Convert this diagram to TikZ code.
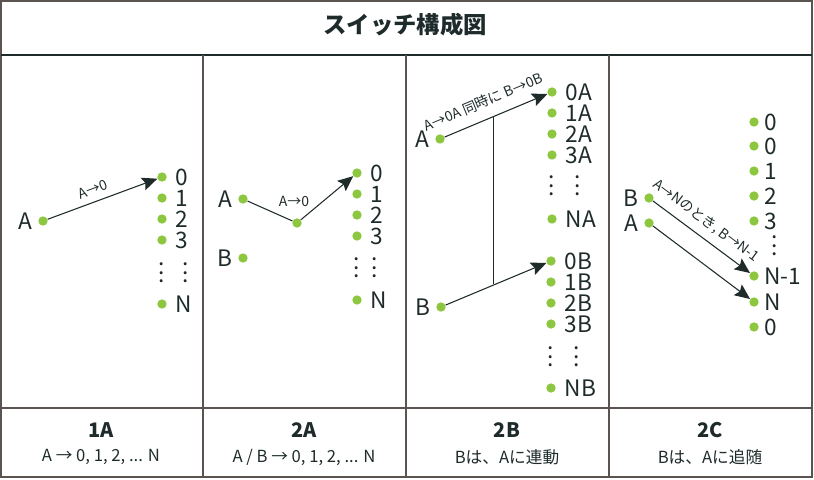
\documentclass[tikz,border=0pt]{standalone}
\usepackage{fontspec}
\setmainfont{Noto Sans CJK JP}
\usetikzlibrary{arrows.meta,positioning}
\definecolor{ink}{HTML}{1F2B2B}
\definecolor{rule}{HTML}{5B5350}
\definecolor{leaf}{HTML}{8DC63F}

\begin{document}
\begin{tikzpicture}[
            x = 0.75pt, y = -0.75pt, % pixel grid, y grows downwards
            > = {Stealth[length=11.5pt,width=10pt,inset=2pt]}, % arrow head style
            node distance = 6.5pt, % distance between dot and its name
            dot/.style = {circle, fill=leaf, inner sep=0pt, minimum size=7pt},
            term/.style = {font=\fontsize{17}{17}\selectfont, text=ink, inner sep=0pt},
            note/.style = {font=\fontsize{10.5}{10.5}\selectfont, text=ink, inner sep=1pt},
            gap/.style = {font=\fontsize{17}{6.5}\selectfont, text=ink, align=center, inner sep=0pt},
            head/.style = {font=\fontsize{15}{15}\selectfont\bfseries, text=ink},
            sub/.style = {font=\fontsize{12.5}{12.5}\selectfont, text=ink},
            wire/.style = {draw=ink, line width=0.8pt},
            frame/.style = {draw=rule, line width=1.1pt}
        ]

	\useasboundingbox (0,0) rectangle (814,479);

	% table
	\draw[frame] (1,1) rectangle (812,477);
	\draw[frame, draw=ink] (1,55) -- (812,55);
	\draw[frame] (1,408) -- (812,408);
	\draw[frame] (203,55) -- (203,477);
	\draw[frame] (406,55) -- (406,477);
	\draw[frame] (609,55) -- (609,477);
	\node[font=\fontsize{17.5}{17.5}\selectfont\bfseries, text=ink] (title) at (405,25) {スイッチ構成図};

	% 1A
	\node[dot] (a1) at (43,221) {};
	\node[term, left=4pt of a1] (la1) {A};
	\node[dot] (c0) at (162,177) {};
	\node[dot] (c1) at (162,198) {};
	\node[dot] (c2) at (162,219) {};
	\node[dot] (c3) at (162,240) {};
	\node[dot] (cn) at (162,304) {};
	\node[term, right=of c0] (lc0) {0};
	\node[term, right=of c1] (lc1) {1};
	\node[term, right=of c2] (lc2) {2};
	\node[term, right=of c3] (lc3) {3};
	\node[term, right=of cn] (lcn) {N};
	\node[gap] (vc) at (162,273) {.\\.\\.};
	\node[gap] (vlc) at (186,273) {.\\.\\.};
	\draw[wire, ->] (a1) -- node[note, sloped, above=4pt, pos=0.45] (l1) {A→0} (c0);

	% 2A
	\node[dot] (a2) at (243,199) {};
	\node[term, left=4pt of a2] (la2) {A};
	\node[dot] (b2) at (243,258) {};
	\node[term, left=4pt of b2] (lb2) {B};
	\node[dot] (m2) at (297,223) {};
	\node[dot] (d0) at (357,173) {};
	\node[dot] (d1) at (357,194) {};
	\node[dot] (d2) at (357,215) {};
	\node[dot] (d3) at (357,236) {};
	\node[dot] (dn) at (357,300) {};
	\node[term, right=of d0] (ld0) {0};
	\node[term, right=of d1] (ld1) {1};
	\node[term, right=of d2] (ld2) {2};
	\node[term, right=of d3] (ld3) {3};
	\node[term, right=of dn] (ldn) {N};
	\node[gap] (vd) at (357,268) {.\\.\\.};
	\node[gap] (vld) at (375,268) {.\\.\\.};
	\draw[wire] (a2) -- (m2);
	\draw[wire, ->] (m2) -- (d0);
	\node[note] (l2) at (294,201) {A→0};

	% 2B
	\node[dot] (a3) at (440,139) {};
	\node[term, left=4pt of a3] (la3) {A};
	\node[dot] (b3) at (441,307) {};
	\node[term, left=4pt of b3] (lb3) {B};
	\node[dot] (e0) at (552,92) {};
	\node[dot] (e1) at (552,113) {};
	\node[dot] (e2) at (552,134) {};
	\node[dot] (e3) at (552,155) {};
	\node[dot] (en) at (552,219) {};
	\node[term, right=of e0] (le0) {0A};
	\node[term, right=of e1] (le1) {1A};
	\node[term, right=of e2] (le2) {2A};
	\node[term, right=of e3] (le3) {3A};
	\node[term, right=of en] (len) {NA};
	\node[gap] (ve) at (552,186) {.\\.\\.};
	\node[gap] (vle) at (578,186) {.\\.\\.};
	\node[dot] (f0) at (551,261) {};
	\node[dot] (f1) at (551,282) {};
	\node[dot] (f2) at (551,303) {};
	\node[dot] (f3) at (551,324) {};
	\node[dot] (fn) at (551,388) {};
	\node[term, right=of f0] (lf0) {0B};
	\node[term, right=of f1] (lf1) {1B};
	\node[term, right=of f2] (lf2) {2B};
	\node[term, right=of f3] (lf3) {3B};
	\node[term, right=of fn] (lfn) {NB};
	\node[gap] (vf) at (551,357) {.\\.\\.};
	\node[gap] (vlf) at (577,357) {.\\.\\.};
	\draw[wire, ->] (a3) -- coordinate[pos=0.48] (ja) node[note, sloped, above=7pt, pos=0.44] (l3) {A→0A 同時に B→0B} (e0);
	\draw[wire, ->] (b3) -- coordinate[pos=0.49] (jb) (f0);
	\draw[wire] (ja) -- (ja |- jb);

	% 2C
	\node[dot] (b4) at (649,198) {};
	\node[term, left=4pt of b4] (lb4) {B};
	\node[dot] (a4) at (649,223) {};
	\node[term, left=4pt of a4] (la4) {A};
	\node[dot] (g0) at (754,122) {};
	\node[dot] (g1) at (754,146) {};
	\node[dot] (g2) at (754,171) {};
	\node[dot] (g3) at (754,196) {};
	\node[dot] (g4) at (754,221) {};
	\node[dot] (g5) at (754,276) {};
	\node[dot] (g6) at (754,302) {};
	\node[dot] (g7) at (754,327) {};
	\node[term, right=4pt of g0] (lg0) {0};
	\node[term, right=4pt of g1] (lg1) {0};
	\node[term, right=4pt of g2] (lg2) {1};
	\node[term, right=4pt of g3] (lg3) {2};
	\node[term, right=4pt of g4] (lg4) {3};
	\node[term, right=4pt of g5] (lg5) {N-1};
	\node[term, right=4pt of g6] (lg6) {N};
	\node[term, right=4pt of g7] (lg7) {0};
	\node[gap] (vg) at (775,246) {.\\.\\.};
	\draw[wire, ->] (b4) -- node[note, sloped, above=5pt, pos=0.45] (l4) {A→Nのとき, B→N-1} (g5);
	\draw[wire, ->] (a4) -- (g6);

	% captions
	\node[head] (h1) at (101,430) {1A};
	\node[sub] (s1) at (101,457) {A → 0, 1, 2, ... N};
	\node[head] (h2) at (304,430) {2A};
	\node[sub] (s2) at (304,457) {A / B → 0, 1, 2, ... N};
	\node[head] (h3) at (507,430) {2B};
	\node[sub] (s3) at (507,457) {Bは、Aに連動};
	\node[head] (h4) at (710,430) {2C};
	\node[sub] (s4) at (710,457) {Bは、Aに追随};

\end{tikzpicture}
\end{document}
